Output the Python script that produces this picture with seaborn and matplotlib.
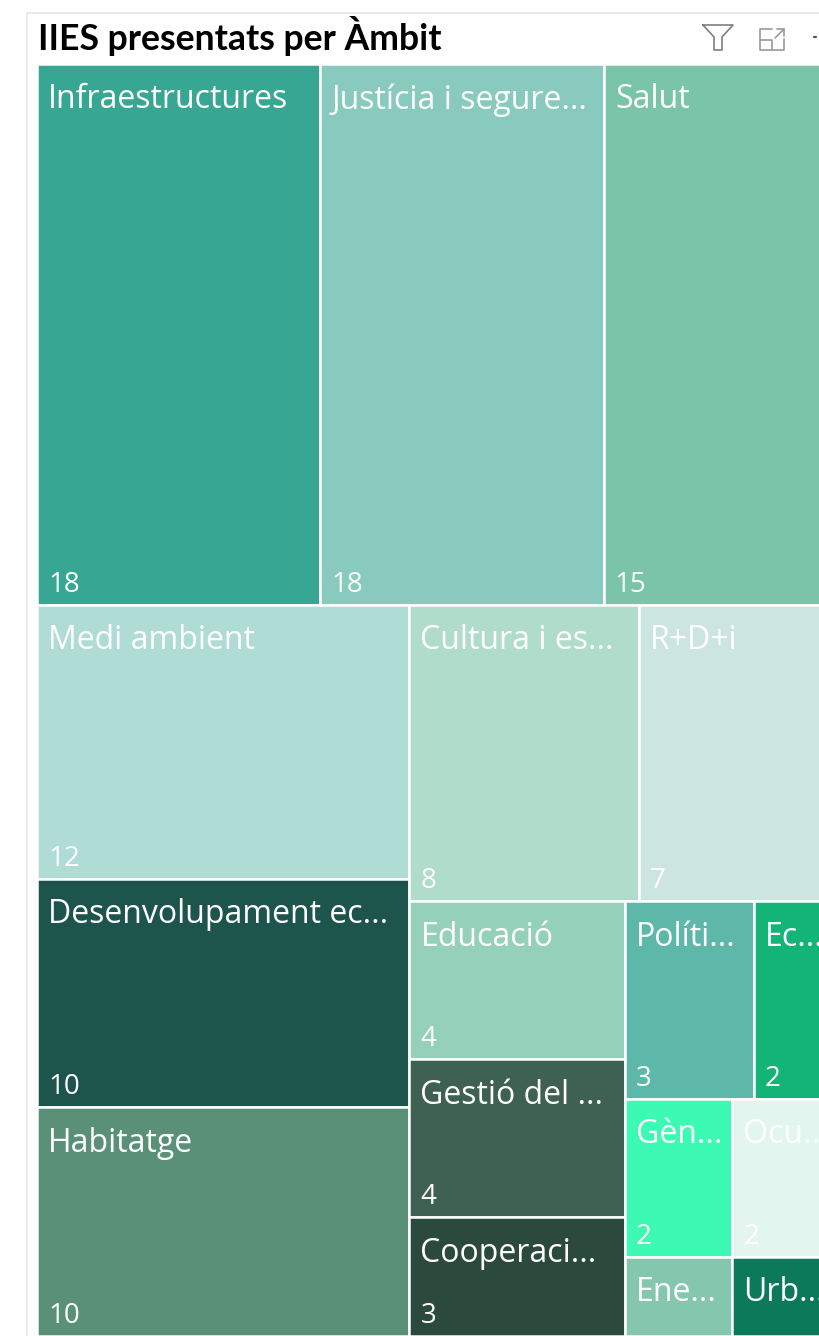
import matplotlib.pyplot as plt
from matplotlib.patches import Rectangle
from matplotlib.lines import Line2D
import seaborn as sns

# Treemap of IIES per ambit, labels are cut off like in the Power BI visual
ambits = ['Infraestructures', 'Justícia', 'Salut', 'Medi ambient', 'Desenvolupament',
          'Habitatge', 'Cultura', 'R+D+i', 'Educació', 'Gestió', 'Cooperació',
          'Polítiques', 'Economia', 'Gènere', 'Ocupació', 'Energia', 'Urbanisme']
labels = ['Infraestructures', 'Justícia i segure...', 'Salut', 'Medi ambient', 'Desenvolupament ec...',
          'Habitatge', 'Cultura i es...', 'R+D+i', 'Educació', 'Gestió del ...', 'Cooperaci...',
          'Políti...', 'Ec...', 'Gèn...', 'Ocu...', 'Ene...', 'Urb...']
iies = [18, 18, 15, 12, 10, 10, 8, 7, 4, 4, 3, 3, 2, 2, 2, 1, 1]
colors = ['#37A794', '#89CABE', '#7AC4A8', '#B0DCD6', '#AFDCCB', '#CCE5DE', '#1D544C',
          '#599077', '#95D0B9', '#3E6151', '#2B4A3D', '#5EB8A9', '#14B478', '#3CFAB4',
          '#E2F5EE', '#85C7AE', '#0C7A5A']
color_order = ['Infraestructures', 'Justícia', 'Salut', 'Medi ambient', 'Cultura', 'R+D+i',
               'Desenvolupament', 'Habitatge', 'Educació', 'Gestió', 'Cooperació',
               'Polítiques', 'Economia', 'Gènere', 'Ocupació', 'Energia', 'Urbanisme']

# nesting of the tiles, each level splits the other way round
tree = [
    ['Infraestructures', 'Justícia', 'Salut'],
    [
        ['Medi ambient', 'Desenvolupament', 'Habitatge'],
        [
            ['Cultura', 'R+D+i'],
            [
                ['Educació', 'Gestió', 'Cooperació'],
                [['Polítiques', 'Economia'], ['Gènere', 'Ocupació'], ['Energia', 'Urbanisme']],
            ],
        ],
    ],
]

value_of = dict(zip(ambits, iies))
label_of = dict(zip(ambits, labels))

sns.set_theme(style='white')
palette = dict(zip(color_order, sns.color_palette(colors)))
plt.rcParams['font.family'] = ['Open Sans', 'DejaVu Sans']

W, H = 820, 1336
fig = plt.figure(figsize=(W / 100, H / 100), dpi=100, facecolor='white')
ax = fig.add_axes([37 / W, 0, 803 / W, (H - 64) / H])
ax.set_xlim(0, 1)
ax.set_ylim(1, 0)
ax.axis('off')


def total(node):
    if isinstance(node, str):
        return value_of[node]
    return sum(total(n) for n in node)


def draw(node, x, y, w, h, stack):
    if isinstance(node, str):
        ax.add_patch(Rectangle((x, y), w, h, facecolor=palette[node], edgecolor='white', lw=1.8))
        ax.annotate(label_of[node], (x, y), xytext=(11, -36), textcoords='offset pixels',
                    color='white', fontsize=23, va='center', ha='left', annotation_clip=False)
        # short tiles have no room for the number
        if h * 1272 > 100:
            ax.annotate(str(value_of[node]), (x, y + h), xytext=(11, 20), textcoords='offset pixels',
                        color='white', fontsize=20, va='center', ha='left', annotation_clip=False)
        return
    pos = 0
    tot = total(node)
    for child in node:
        share = total(child) / tot
        if stack:
            draw(child, x, y + pos * h, w, share * h, False)
        else:
            draw(child, x + pos * w, y, share * w, h, True)
        pos += share


draw(tree, 0, 0, 1, 1, True)

# title and visual header
fig.text(38 / W, 1 - 36 / H, 'IIES presentats per Àmbit', fontsize=25.7, fontweight='bold',
         family=['Lato', 'DejaVu Sans'], color='black', va='center', ha='left')


def px_line(xs, ys, color='#7f7f7f', lw=1.2):
    fig.add_artist(Line2D([v / W for v in xs], [1 - v / H for v in ys], color=color, lw=lw))


px_line([27, 27], [H, 13], color='#e6e6e6')
px_line([27, W], [13, 13], color='#e6e6e6')
# filter icon
px_line([703, 733, 722, 722, 714, 714, 703], [25, 25, 37, 50, 50, 37, 25])
# focus icon
px_line([772, 760, 760, 784, 784], [29, 29, 50, 50, 39], color='#999999')
px_line([760, 772, 772], [40, 40, 50], color='#999999')
px_line([775, 784], [38, 29], color='#999999')
px_line([777, 784, 784], [29, 29, 36], color='#999999')
px_line([814, 816], [37, 37], color='#555555', lw=1.6)

fig.savefig('out.png', dpi=100)
